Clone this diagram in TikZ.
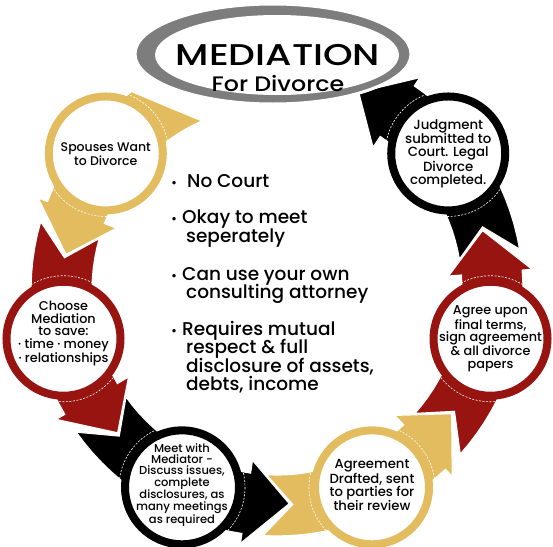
\documentclass[tikz,border=0pt]{standalone}
\usepackage{fontspec}
\setmainfont{Poppins Medium}
\usetikzlibrary{calc}

\definecolor{gold}{RGB}{226,188,94}
\definecolor{wine}{RGB}{152,20,16}
\definecolor{ringgray}{RGB}{125,125,125}

\begin{document}
\begin{tikzpicture}[x=1pt,y=-1pt,
  band/.style={fill=#1, draw=white, line width=1.2pt, line join=miter},
  stagering/.style={circle, fill=white, draw=#1, line width=8pt, minimum size=114pt, inner sep=0pt},
  stagetext/.style 2 args={align=center, font=\fontsize{#1}{#2}\selectfont, inner sep=0pt},
  listtext/.style={anchor=base west, inner sep=0pt, font=\fontsize{18.5}{18}\selectfont}]
\useasboundingbox (0,0) rectangle (553,546);
\coordinate (c) at (277,290);

% arrow bands round the ring
\foreach \ang/\col/\ot/\nt/\it in {218.57/gold/15.2/20.3/27.5, 167.14/wine/29/21.5/29,
    115.71/black/29/21.5/29, 64.29/gold/29/21.5/29, 12.86/wine/29/21.5/29, -38.57/black/29/21.5/29} {
  \pgfmathsetmacro{\oa}{\ang+\ot}
  \pgfmathsetmacro{\na}{\ang+\nt}
  \pgfmathsetmacro{\ia}{\ang+\it}
  \pgfmathsetmacro{\ba}{\ang-17.5}
  \pgfmathsetmacro{\ha}{\ang-29}
  \draw[band=\col, shift={(c)}] (\oa:246) -- (\na:215) -- (\ia:185)
    -- plot[domain=\ia:\ba, samples=16] (\x:185) -- (\ba:172) -- (\ha:214) -- (\ba:256)
    -- plot[domain=\ba:\oa, samples=16] (\x:246) -- cycle;
}

% steps
\foreach \nm/\ang/\col/\fs/\ls/\dy/\txt in {
    want/218.57/gold/12.5/12.5/-1/{Spouses Want\\to Divorce},
    choose/167.14/wine/12.8/12.5/5/{Choose\\Mediation\\to save:\\· time · money\\· relationships},
    meet/115.71/black/11.5/11.3/2.5/{Meet with\\Mediator -\\Discuss issues,\\complete\\disclosures, as\\many meetings\\as required},
    draft/64.29/gold/13.2/12.4/2/{Agreement\\Drafted, sent\\to parties for\\their review},
    agree/12.86/wine/12.8/12.5/0/{Agree upon\\final terms,\\sign agreement\\\& all divorce\\papers},
    judge/-38.57/black/13.3/12.7/0/{Judgment\\submitted to\\Court. Legal\\Divorce\\completed.}} {
  \node[stagering=\col] (\nm) at ($(c)+(\ang:219)$) {};
  \draw[white, line width=0.6pt, dash pattern=on 2pt off 1.5pt] (\nm.center) circle (63);
  \node[stagetext={\fs}{\ls}, yshift=\dy pt] (\nm-text) at (\nm.center) {\txt};
}

% title
\filldraw[fill=ringgray, draw=white, line width=3pt] (273,54) ellipse [x radius=138, y radius=50];
\fill[white] (277,55) ellipse [x radius=122, y radius=40];
\node[font=\fontsize{30}{32}\selectfont, anchor=base] (title) at (278,65) {\scalebox{1.26}[1]{MEDIATION}};
\node[font=\fontsize{21}{24}\selectfont, anchor=base] (subtitle) at (278,91) {\scalebox{1.13}[1]{For Divorce}};

% list in the middle
\foreach \y [count=\i] in {187,223,280,335}
  \node[listtext, font=\fontsize{13}{13}\selectfont] (dot\i) at (171,\y) {•};
\foreach \y/\xx/\txt [count=\i] in {187/187/No Court, 223/182/Okay to meet, 242/186/seperately,
    280/182/Can use your own, 298/186/consulting attorney, 335/182/Requires mutual,
    353/186/respect \& full, 372/186/{disclosure of assets,}, 390/186/{debts, income}}
  \node[listtext] (line\i) at (\xx,\y) {\txt};
\end{tikzpicture}
\end{document}
